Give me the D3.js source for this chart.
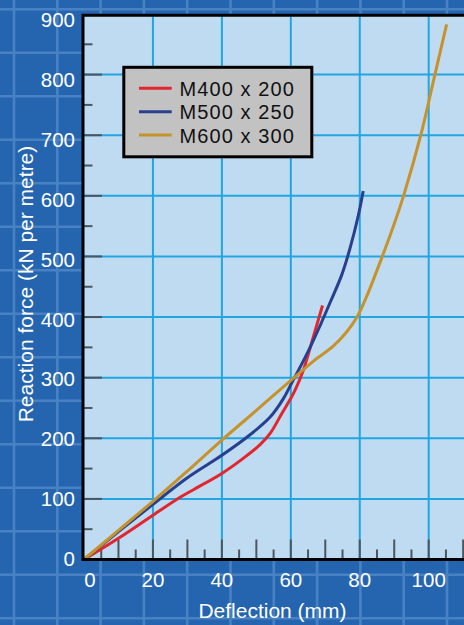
<!DOCTYPE html>
<html>
<head>
<meta charset="utf-8">
<script src="https://cdn.jsdelivr.net/npm/d3@7"></script>
<style>
  html, body { margin: 0; padding: 0; background: #2565b0; }
  svg { display: block; }
  text { font-family: "Liberation Sans", Arial, sans-serif; }
</style>
</head>
<body>
<svg id="chart" width="464" height="625"></svg>
<script>
// Reaction force vs deflection for three section sizes
const seriesNames = ["M400 x 200", "M500 x 250", "M600 x 300"];
const seriesColors = ["#e2262e", "#283f90", "#c6922b"];

const m400Deflection = [0, 10, 20, 28, 32, 40, 46, 51, 54, 57.4, 60, 61.2, 63.6, 66.5, 69.2];
const m400Force      = [0, 35, 73, 103, 116, 142, 166, 189, 208, 241, 266, 279, 312, 367, 419];

const m500Deflection = [0, 10, 20, 30, 40, 48, 54, 57.8, 60.5, 62.2, 65.6, 68.5, 71.4, 74.8, 77.2, 79.6, 81];
const m500Force      = [0, 46, 91, 135, 172, 205, 235, 265, 294, 312, 350, 386, 424, 470, 514, 568, 608];

const m600Deflection = [0, 10, 20, 30, 40, 50, 60.7, 66.5, 72.3, 76, 79.3, 82, 86.4, 89.7, 92.7, 97.7, 101.8, 105.2];
const m600Force      = [0, 48, 96, 146, 197, 246, 299, 327, 352, 374, 401, 434, 498, 549, 600, 700, 800, 883];

const xTickLabels = [0, 20, 40, 60, 80, 100];
const yTickLabels = [0, 100, 200, 300, 400, 500, 600, 700, 800, 900];

const xTitle = "Deflection (mm)";
const yTitle = "Reaction force (kN per metre)";

const series = [
  { name: seriesNames[0], color: seriesColors[0], pts: d3.zip(m400Deflection, m400Force) },
  { name: seriesNames[1], color: seriesColors[1], pts: d3.zip(m500Deflection, m500Force) },
  { name: seriesNames[2], color: seriesColors[2], pts: d3.zip(m600Deflection, m600Force) }
];

const W = 464, H = 625;
const svg = d3.select("#chart");

// scales
const x = d3.scaleLinear().domain([0, 100]).range([84, 428.7]);
const y = d3.scaleLinear().domain([0, 900]).range([559.5, 14]);
const yLabel = d3.scaleLinear().domain([0, 900]).range([y(0) - 0.6, y(900) + 5.5]);
const xMax = x.invert(W + 10);

// blueprint-style backdrop
svg.append("rect").attr("width", W).attr("height", H).attr("fill", "#2565b0");
const bg = svg.append("g").attr("stroke", "#4f88c7").attr("stroke-width", 2.6).attr("opacity", 0.85);
d3.range(14, W, 43.3).forEach(v => bg.append("line").attr("x1", v).attr("x2", v).attr("y1", 0).attr("y2", H));
d3.range(9.3, H, 43.5).forEach(v => bg.append("line").attr("y1", v).attr("y2", v).attr("x1", 0).attr("x2", W));

// plot area
svg.append("rect")
  .attr("x", x(0) - 1).attr("y", y(900))
  .attr("width", W + 10 - x(0)).attr("height", y(0) - y(900))
  .attr("fill", "#bedbf1");

// grid
const grid = svg.append("g").attr("stroke", "#22a6e2").attr("stroke-width", 2);
grid.selectAll(".gx").data(d3.range(20, xMax, 20)).join("line")
  .attr("x1", d => x(d)).attr("x2", d => x(d))
  .attr("y1", y(0)).attr("y2", y(900));
grid.selectAll(".gy").data(d3.range(100, 900, 100)).join("line")
  .attr("x1", x(0)).attr("x2", W + 10)
  .attr("y1", d => y(d)).attr("y2", d => y(d));

// tick marks
const ticks = svg.append("g").attr("stroke", "#4d5560").attr("stroke-width", 2);
ticks.selectAll(".tx").data(d3.range(5, xMax, 5)).join("line")
  .attr("x1", d => x(d)).attr("x2", d => x(d))
  .attr("y1", y(0)).attr("y2", d => y(0) - (d % 10 === 0 ? 20 : 10));
ticks.selectAll(".ty").data(d3.range(50, 900, 50)).join("line")
  .attr("y1", d => y(d)).attr("y2", d => y(d))
  .attr("x1", x(0)).attr("x2", d => x(0) + (d % 100 === 0 ? 18 : 8.5));

// curves
const line = d3.line().x(d => x(d[0])).y(d => y(d[1])).curve(d3.curveCatmullRom.alpha(0.5));
svg.append("g").selectAll("path").data(series).join("path")
  .attr("d", d => line(d.pts))
  .attr("fill", "none")
  .attr("stroke", d => d.color)
  .attr("stroke-width", 3)
  .attr("stroke-linecap", "butt");

// frame
svg.append("path")
  .attr("d", `M${W + 10},${y(900) + 1.3} H${x(0) - 1} V${y(0)} H${W + 10}`)
  .attr("fill", "none").attr("stroke", "#000").attr("stroke-width", 3);

// tick labels
svg.append("g").selectAll("text").data(yTickLabels).join("text")
  .attr("x", 75).attr("y", d => yLabel(d)).attr("dy", "0.36em")
  .attr("text-anchor", "end").attr("fill", "#fff").attr("font-size", 20.5)
  .text(d => d);
svg.append("g").selectAll("text").data(xTickLabels).join("text")
  .attr("x", d => x(d) + (d === 0 ? 6 : 0)).attr("y", 586.5)
  .attr("text-anchor", "middle").attr("fill", "#fff").attr("font-size", 20.5)
  .text(d => d);

// axis titles
svg.append("text")
  .attr("x", 272.5).attr("y", 618.3).attr("text-anchor", "middle")
  .attr("fill", "#fff").attr("font-size", 21).text(xTitle);
svg.append("text")
  .attr("transform", "translate(33,284) rotate(-90)").attr("text-anchor", "middle")
  .attr("fill", "#fff").attr("font-size", 21).text(yTitle);

// legend
const legend = svg.append("g");
legend.append("rect")
  .attr("x", 123.8).attr("y", 67.3).attr("width", 188).attr("height", 89.5)
  .attr("fill", "#c2c2c2").attr("stroke", "#000").attr("stroke-width", 3);
const rows = legend.selectAll("g.row").data(series).join("g")
  .attr("transform", (d, i) => `translate(0,${88.3 + i * 23.35})`);
rows.append("line")
  .attr("x1", 139).attr("x2", 171.7)
  .attr("stroke", d => d.color).attr("stroke-width", 3);
rows.append("text")
  .attr("x", 179.5).attr("y", 7.7)
  .attr("fill", "#111").attr("font-size", 20).attr("letter-spacing", 1.1)
  .text(d => d.name);
</script>
</body>
</html>
